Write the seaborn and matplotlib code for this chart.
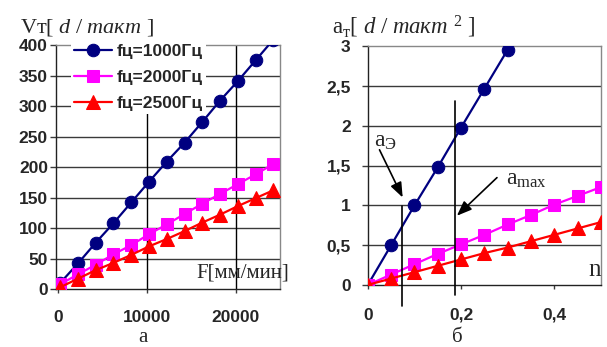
import matplotlib
matplotlib.use("Agg")
import matplotlib.pyplot as plt
import seaborn as sns
import pandas as pd

# ── data ────────────────────────────────────────────────────────────────────
# chart "а": speed per tact vs feed F [мм/мин]
feed      = [250, 2250, 4250, 6250, 8250, 10250, 12250, 14250, 16250, 18250, 20250, 22250, 24250]
v_1000    = [10, 42, 76, 108, 142, 176, 209, 240, 274, 309, 341, 375, 409]
v_2000    = [8, 24, 40, 57, 72, 90, 106, 123, 140, 156, 172, 188, 205]
v_2500    = [3, 17, 31, 43, 56, 70, 82, 95, 109, 122, 136, 149, 162]

# chart "б": acceleration per tact vs n
n_vals    = [0, 0.05, 0.10, 0.15, 0.20, 0.25, 0.30, 0.35, 0.40, 0.45, 0.50]
a_1000    = [0, 0.50, 1.00, 1.48, 1.98, 2.47, 2.96, 3.45]
a_2000    = [0, 0.13, 0.26, 0.39, 0.51, 0.63, 0.76, 0.88, 1.01, 1.12, 1.23]
a_2500    = [0, 0.08, 0.16, 0.24, 0.32, 0.40, 0.47, 0.55, 0.63, 0.71, 0.79]

series_labels = ["fц=1000Гц", "fц=2000Гц", "fц=2500Гц"]
left_xticks   = [0, 10000, 20000]
left_yticks   = [0, 50, 100, 150, 200, 250, 300, 350, 400]
right_xticks  = [0, 0.2, 0.4]
right_xlabels = ["0", "0,2", "0,4"]
right_yticks  = [0, 0.5, 1, 1.5, 2, 2.5, 3]
right_ylabels = ["0", "0,5", "1", "1,5", "2", "2,5", "3"]

# ── style ───────────────────────────────────────────────────────────────────
sns.set_style("white")
plt.rcParams["font.family"] = ["Liberation Sans", "DejaVu Sans"]
plt.rcParams["mathtext.fontset"] = "custom"
plt.rcParams["mathtext.rm"] = "Liberation Serif"
plt.rcParams["mathtext.it"] = "Liberation Serif:italic"

STYLES = [
    dict(color="#000080", marker="o", markersize=9),
    dict(color="#FF00FF", marker="s", markersize=8),
    dict(color="#FF0000", marker="^", markersize=9.5),
]
GRID = "#3a3a3a"
SERIF = "Liberation Serif"
TICKFONT = dict(family="Liberation Sans", weight="bold", size=12.5)

fig = plt.figure(figsize=(6.07, 3.47), dpi=100)
ax1 = fig.add_axes([0.0923, 0.167, 0.369, 0.703])
ax2 = fig.add_axes([0.606, 0.179, 0.384, 0.687])


def draw_series(ax, xs, ys_list, with_label):
    for ys, st, lab in zip(ys_list, STYLES, series_labels):
        df = pd.DataFrame({"x": xs[:len(ys)], "y": ys})
        sns.lineplot(data=df, x="x", y="y", ax=ax, color=st["color"],
                     marker=st["marker"], markersize=st["markersize"],
                     markeredgecolor=st["color"], linewidth=1.6,
                     label=lab if with_label else None, legend=False, zorder=3)


def style_axes(ax):
    ax.set_xlabel("")
    ax.set_ylabel("")
    for s in ["left", "bottom"]:
        ax.spines[s].set_color("#222222")
    for s in ["top", "right"]:
        ax.spines[s].set_color("#888888")
    for s in ax.spines.values():
        s.set_linewidth(1)
    ax.tick_params(axis="y", direction="out", length=4.3, width=1, color=GRID,
                   left=True)
    ax.tick_params(axis="x", direction="out", length=2.9, width=1, color=GRID,
                   bottom=True)


# ── chart а ─────────────────────────────────────────────────────────────────
draw_series(ax1, feed, [v_1000, v_2000, v_2500], True)
ax1.set_xlim(-220, 25000)
ax1.set_ylim(0, 400)
ax1.set_xticks(left_xticks)
ax1.set_yticks(left_yticks)
ax1.set_xticklabels([str(v) for v in left_xticks], fontdict=TICKFONT)
ax1.set_yticklabels([str(v) for v in left_yticks], fontdict=TICKFONT)
for v in left_yticks[1:-1]:
    ax1.axhline(v, color=GRID, linewidth=1, zorder=1)
for v in left_xticks[1:]:
    ax1.axvline(v, color="black", linewidth=1, zorder=1)
style_axes(ax1)
ax1.tick_params(axis="x", pad=12)
ax1.tick_params(axis="y", pad=1.5)
leg = ax1.legend(loc="upper left", bbox_to_anchor=(0.065, 1.02), frameon=True,
                 facecolor="white", edgecolor="none", framealpha=1,
                 prop=dict(family="Liberation Sans", weight="bold", size=12.5),
                 handlelength=2.2, handletextpad=0.25, labelspacing=0.62,
                 borderpad=0.2, borderaxespad=0, fancybox=False)
leg.set_zorder(5)
ax1.text(15600, 26, "F[мм/мин]", family=SERIF, fontsize=15, ha="left",
         va="center", zorder=4)
fig.text(20 / 607, 1 - 27 / 347,
         r"V$\mathrm{т}$[ $d\ /\ такт$ ]", family=SERIF, fontsize=16,
         ha="left", va="center")
fig.text(143 / 607, 1 - 337 / 347, "а", family=SERIF, fontsize=15,
         ha="center", va="center")

# ── chart б ─────────────────────────────────────────────────────────────────
draw_series(ax2, n_vals, [a_1000, a_2000, a_2500], False)
ax2.set_xlim(0, 0.5)
ax2.set_ylim(0, 3)
ax2.set_xticks(right_xticks)
ax2.set_xticklabels(right_xlabels, fontdict=TICKFONT)
ax2.set_yticks(right_yticks)
ax2.set_yticklabels(right_ylabels, fontdict=TICKFONT)
for v in right_yticks[1:-1]:
    ax2.axhline(v, color=GRID, linewidth=1, zorder=1)
style_axes(ax2)
ax2.tick_params(axis="x", pad=13.5)
ax2.tick_params(axis="y", pad=8)

# marker lines for aЭ and amax
ax2.plot([0.073, 0.073], [0.99, -0.27], color="black", linewidth=1.2,
         clip_on=False, zorder=4)
ax2.plot([0.188, 0.188], [2.31, -0.13], color="black", linewidth=1.2,
         clip_on=False, zorder=4)
arrow = dict(arrowstyle="-|>,head_width=0.35,head_length=0.9", color="black",
             linewidth=1.2, shrinkA=0, shrinkB=0)
ax2.annotate("", xy=(0.0747, 1.10), xytext=(0.025, 1.70), arrowprops=arrow,
             zorder=5)
ax2.annotate("", xy=(0.191, 0.87), xytext=(0.277, 1.35), arrowprops=arrow,
             zorder=5)
ax2.text(0.037, 1.80, r"a$_\mathrm{Э}$", family=SERIF, fontsize=17,
         ha="center", va="center")
ax2.text(0.34, 1.32, r"a$_\mathrm{max}$", family=SERIF, fontsize=17,
         ha="center", va="center")
ax2.text(0.486, 0.19, "n", family=SERIF, fontsize=18, ha="center",
         va="center")
fig.text(332 / 607, 1 - 27 / 347,
         r"a$_\mathrm{т}$[ $d\ /\ такт$ $^\mathrm{2}$ ]", family=SERIF,
         fontsize=16.5, ha="left", va="center")
fig.text(457 / 607, 1 - 337 / 347, "б", family=SERIF, fontsize=15,
         ha="center", va="center")

fig.savefig("out.png", dpi=100)
